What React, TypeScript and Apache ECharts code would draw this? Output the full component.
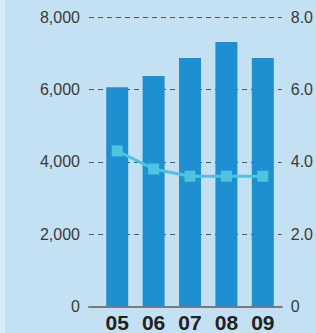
import React, { useEffect, useRef } from "react";
import * as echarts from "echarts";

const categories = ["05", "06", "07", "08", "09"];
const barValues = [6060, 6370, 6870, 7310, 6870];
const lineValues = [4.3, 3.8, 3.6, 3.6, 3.6];
const leftTicks = [0, 2000, 4000, 6000, 8000];
const rightTicks = [0, 2, 4, 6, 8];

export default function App() {
  const ref = useRef<HTMLDivElement>(null);
  useEffect(() => {
    if (!ref.current) return;
    const chart = echarts.init(ref.current, undefined, { renderer: "svg" });
    const font = "'Liberation Sans', Arial, sans-serif";
    const gridCommon = { top: 17, bottom: 26.5, containLabel: false };
    chart.setOption({
      animation: false,
      backgroundColor: "transparent",
      grid: [
        { ...gridCommon, left: 89, right: 34 },
        { ...gridCommon, left: 99, right: 35 },
      ],
      xAxis: [
        {
          type: "category",
          gridIndex: 0,
          data: categories,
          axisLine: { show: true, lineStyle: { color: "#7a7a7a", width: 2 } },
          axisTick: { show: false },
          axisLabel: { show: false },
          z: 5,
        },
        {
          type: "category",
          gridIndex: 1,
          data: categories,
          axisLine: { show: false },
          axisTick: { show: false },
          axisLabel: {
            show: true,
            color: "#222",
            fontSize: 21,
            fontWeight: "bold",
            fontFamily: font,
            margin: 5,
          },
        },
      ],
      yAxis: [
        {
          type: "value",
          gridIndex: 0,
          min: 0,
          max: 8000,
          interval: 2000,
          position: "left",
          axisLine: { show: false },
          axisTick: { show: false },
          axisLabel: {
            color: "#3a3a3a",
            fontSize: 16,
            fontFamily: font,
            margin: 9,
            formatter: (v: number) =>
              leftTicks.includes(v) ? v.toLocaleString("en-US") : "",
          },
          splitLine: {
            show: true,
            lineStyle: { color: "#555", type: [5, 4], width: 1 },
          },
        },
        {
          type: "value",
          gridIndex: 0,
          min: 0,
          max: 8,
          interval: 2,
          position: "right",
          axisLine: { show: false },
          axisTick: { show: false },
          axisLabel: {
            color: "#3a3a3a",
            fontSize: 16,
            fontFamily: font,
            margin: 9,
            formatter: (v: number) =>
              rightTicks.includes(v) ? (v === 0 ? "0" : v.toFixed(1)) : "",
          },
          splitLine: { show: false },
        },
        {
          type: "value",
          gridIndex: 1,
          min: 0,
          max: 8000,
          show: false,
        },
        {
          type: "value",
          gridIndex: 1,
          min: 0,
          max: 8,
          show: false,
        },
      ],
      series: [
        {
          type: "bar",
          xAxisIndex: 1,
          yAxisIndex: 2,
          data: barValues,
          barWidth: 22,
          itemStyle: { color: "#1e8fd0" },
          z: 3,
        },
        {
          type: "line",
          xAxisIndex: 1,
          yAxisIndex: 3,
          data: lineValues,
          symbol: "rect",
          symbolSize: 11,
          lineStyle: { color: "#4fc3e0", width: 3 },
          itemStyle: { color: "#4fc3e0" },
          z: 4,
        },
      ],
    });
    return () => chart.dispose();
  }, []);
  return (
    <div
      style={{
        position: "fixed",
        left: 0,
        top: 0,
        width: 316,
        height: 333,
        background:
          "linear-gradient(to right, #d6eefb 0px, #d6eefb 5px, #c4e1f3 5px, #c4e1f3 100%)",
      }}
    >
      <div ref={ref} style={{ width: 316, height: 333 }} />
    </div>
  );
}
